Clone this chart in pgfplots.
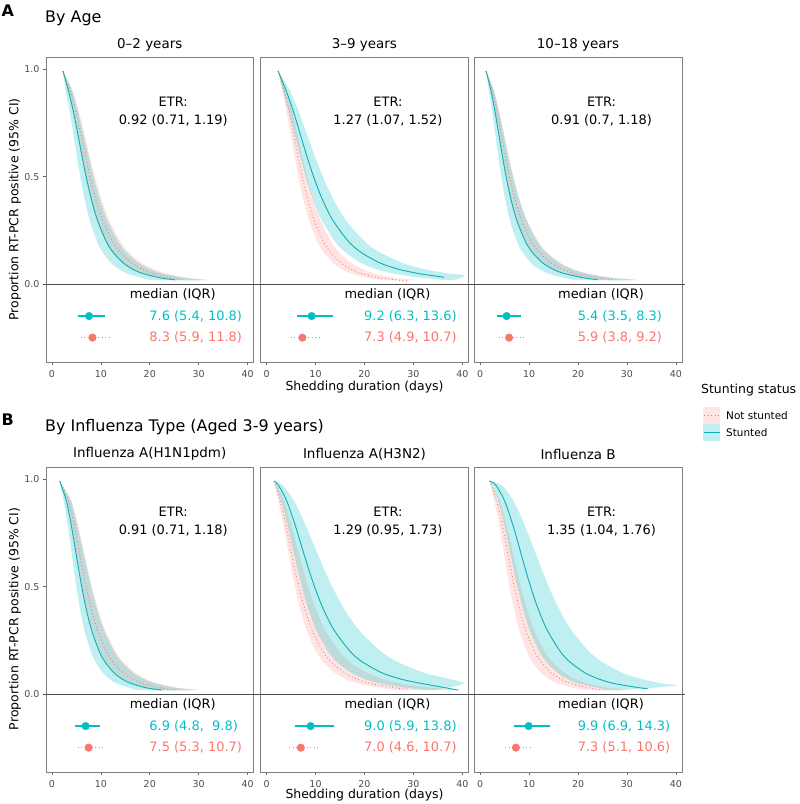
\documentclass[border=0pt]{standalone}
\usepackage{fontspec}
\setmainfont{DejaVu Sans}
\usepackage{pgfplots}
\pgfplotsset{compat=1.18}
\definecolor{scol}{HTML}{00BFC4}
\definecolor{slinecol}{HTML}{10AEB2}
\definecolor{ncol}{HTML}{F8766D}
\pgfplotsset{
  panel/.style={scale only axis, width=207.5bp, height=305bp,
    xmin=-1.2, xmax=41.2, ymin=-0.36, ymax=1.055, clip=false,
    axis line style={black!50, line width=0.55bp},
    tick pos=left, tick align=outside, major tick length=3bp,
    xtick={0,10,20,30,40}, ytick={0,0.5,1},
    every tick/.style={black!60, line width=0.55bp},
    tick label style={font=\fontsize{9.5}{11}\selectfont, text=black!70},
    xticklabel style={yshift=-1.5bp},
    /pgf/number format/assume math mode=true,
    yticklabel style={/pgf/number format/fixed, /pgf/number format/fixed zerofill, /pgf/number format/precision=1}},
  inner/.style={ytick=\empty},
  sband/.style={draw=none, fill=scol, fill opacity=0.25, smooth},
  nband/.style={draw=none, fill=ncol, fill opacity=0.2, smooth},
  sln/.style={slinecol, line width=0.9bp, smooth, no markers},
  nln/.style={ncol, line width=0.9bp, dash pattern=on 0.9bp off 2.6bp, smooth, no markers},
  siqr/.style={scol, line width=1.3bp, no markers},
  niqr/.style={ncol, line width=1.3bp, dash pattern=on 1bp off 2.5bp, no markers},
  sdot/.style={only marks, mark=*, mark size=3.8bp, scol, mark options={draw=scol, fill=scol}},
  ndot/.style={only marks, mark=*, mark size=3.8bp, ncol, mark options={draw=ncol, fill=ncol}},
}
\newcommand{\annfont}{\fontsize{13}{15.6}\selectfont}
\newcommand{\zeroline}{\draw[black!70, line width=0.7bp] (axis cs:-1.9,0) -- (axis cs:41.9,0);}
\newcommand{\etr}[1]{%
  \node[font=\annfont] at (axis cs:24.8,0.845) {ETR:};
  \node[font=\annfont] at (axis cs:24.8,0.76) {#1};
  \node[font=\annfont] at (axis cs:24.7,-0.048) {median (IQR)};}
\newcommand{\medtext}[2]{%
  \node[anchor=west, inner sep=0pt, text=scol, font=\annfont] at (axis cs:19.9,-0.147) {#1};
  \node[anchor=west, inner sep=0pt, text=ncol, font=\annfont] at (axis cs:19.9,-0.247) {#2};}
\begin{document}
\begin{tikzpicture}
\path[use as bounding box] (0,0) rectangle (800bp,804bp);

% ---------------- Panel A ----------------
\node[anchor=west, inner sep=0pt, font=\bfseries\fontsize{16}{19}\selectfont] at (1.5bp,793bp) {A};
\node[anchor=west, inner sep=0pt, font=\fontsize{16}{19}\selectfont] at (45bp,785.7bp) {By Age};
\node[font=\fontsize{13.5}{16}\selectfont] at (149.75bp,759bp) {0–2 years};
\node[font=\fontsize{13.5}{16}\selectfont] at (364.45bp,759bp) {3–9 years};
\node[font=\fontsize{13.5}{16}\selectfont] at (578.05bp,759bp) {10–18 years};
\node[rotate=90, font=\fontsize{12.5}{15}\selectfont] at (15bp,594.5bp) {Proportion RT-PCR positive (95\% CI)};
\node[font=\fontsize{12.5}{15}\selectfont] at (364.5bp,417bp) {Shedding duration (days)};

% A1: 0-2 years
\begin{axis}[panel, at={(46bp,442bp)}, anchor=south west]
\addplot[nband] coordinates {(2.25,.99)(4.23,.9)(5.54,.8)(6.64,.7)(7.69,.6)(8.8,.5)(10.08,.4)(11.67,.3)(13.97,.2)(15.69,.15)(18.30,.1)(20.85,.07)(23.48,.05)(28.04,.03)(32.20,.02)(25.25,.02)(21.98,.03)(18.41,.05)(16.35,.07)(14.35,.1)(12.30,.15)(10.95,.2)(9.15,.3)(7.90,.4)(6.9,.5)(6.03,.6)(5.20,.7)(4.35,.8)(3.32,.9)};
\addplot[sband] coordinates {(2.25,.99)(4.09,.9)(5.36,.8)(6.41,.7)(7.43,.6)(8.5,.5)(9.73,.4)(11.27,.3)(13.49,.2)(15.16,.15)(17.68,.1)(20.14,.07)(22.68,.05)(27.08,.03)(31.10,.02)(21.22,.02)(18.48,.03)(15.47,.05)(13.74,.07)(12.06,.1)(10.34,.15)(9.20,.2)(7.69,.3)(6.64,.4)(5.8,.5)(5.07,.6)(4.37,.7)(3.65,.8)(2.79,.9)};
\addplot[nln] coordinates {(2.25,.99)(3.75,.9)(4.91,.8)(5.88,.7)(6.82,.6)(7.8,.5)(8.93,.4)(10.34,.3)(12.38,.2)(13.91,.15)(16.22,.1)(18.48,.07)(20.81,.05)(24.85,.03)(27.0,.022)};
\addplot[sln] coordinates {(2.25,.99)(3.37,.9)(4.41,.8)(5.28,.7)(6.12,.6)(7.0,.5)(8.02,.4)(9.28,.3)(11.11,.2)(12.48,.15)(14.56,.1)(16.58,.07)(18.68,.05)(22.30,.03)(25.2,.021)};
\zeroline
\etr{0.92 (0.71, 1.19)}
\addplot[siqr] coordinates {(5.4,-0.147) (10.8,-0.147)};
\addplot[sdot] coordinates {(7.6,-0.147)};
\addplot[niqr] coordinates {(5.9,-0.247) (11.8,-0.247)};
\addplot[ndot] coordinates {(8.3,-0.247)};
\medtext{7.6 (5.4, 10.8)}{8.3 (5.9, 11.8)}
\end{axis}

% A2: 3-9 years
\begin{axis}[panel, inner, at={(260.7bp,442bp)}, anchor=south west]
\addplot[nband] coordinates {(2.35,.99)(3.99,.9)(5.23,.8)(6.26,.7)(7.25,.6)(8.3,.5)(9.50,.4)(11.01,.3)(13.17,.2)(14.80,.15)(17.26,.1)(19.66,.07)(22.14,.05)(26.44,.03)(30.37,.02)(23.78,.02)(20.71,.03)(17.34,.05)(15.40,.07)(13.52,.1)(11.59,.15)(10.32,.2)(8.62,.3)(7.44,.4)(6.5,.5)(5.68,.6)(4.90,.7)(4.10,.8)(3.13,.9)};
\addplot[sband] coordinates {(2.35,.99)(2.86,.97)(4.77,.9)(6.60,.8)(8.20,.7)(9.78,.6)(11.5,.5)(13.52,.4)(16.13,.3)(20.02,.2)(23.02,.15)(27.69,.1)(32.37,.07)(37.34,.05)(40.5,.042)(37.95,.02)(32.13,.03)(25.98,.05)(22.52,.07)(19.26,.1)(16.02,.15)(13.93,.2)(11.22,.3)(9.41,.4)(8.0,.5)(6.80,.6)(5.70,.7)(4.59,.8)(3.32,.9)};
\addplot[nln] coordinates {(2.35,.99)(3.51,.9)(4.60,.8)(5.50,.7)(6.38,.6)(7.3,.5)(8.36,.4)(9.68,.3)(11.59,.2)(13.02,.15)(15.18,.1)(17.29,.07)(19.48,.05)(23.26,.03)(26.71,.02)(29.0,.016)};
\addplot[sln] coordinates {(2.35,.99)(3.98,.9)(5.51,.8)(6.84,.7)(8.16,.6)(9.6,.5)(11.29,.4)(13.47,.3)(16.71,.2)(19.22,.15)(23.12,.1)(27.02,.07)(31.17,.05)(36.3,.033)};
\zeroline
\etr{1.27 (1.07, 1.52)}
\addplot[siqr] coordinates {(6.3,-0.147) (13.6,-0.147)};
\addplot[sdot] coordinates {(9.2,-0.147)};
\addplot[niqr] coordinates {(4.9,-0.247) (10.7,-0.247)};
\addplot[ndot] coordinates {(7.3,-0.247)};
\medtext{9.2 (6.3, 13.6)}{7.3 (4.9, 10.7)}
\end{axis}

% A3: 10-18 years
\begin{axis}[panel, inner, at={(474.3bp,442bp)}, anchor=south west]
\addplot[nband] coordinates {(1.2,.99)(2.82,.9)(3.90,.8)(4.85,.7)(5.78,.6)(6.8,.5)(8.00,.4)(9.54,.3)(11.84,.2)(13.61,.15)(16.37,.1)(19.14,.07)(22.08,.05)(27.31,.03)(32.26,.02)(25.14,.02)(21.28,.03)(17.21,.05)(14.92,.07)(12.76,.1)(10.61,.15)(9.23,.2)(7.44,.3)(6.23,.4)(5.3,.5)(4.51,.6)(3.78,.7)(3.04,.8)(2.20,.9)};
\addplot[sband] coordinates {(1.2,.99)(2.78,.9)(3.85,.8)(4.78,.7)(5.70,.6)(6.7,.5)(7.88,.4)(9.40,.3)(11.66,.2)(13.41,.15)(16.13,.1)(18.86,.07)(21.75,.05)(26.91,.03)(31.78,.02)(20.40,.02)(17.27,.03)(13.96,.05)(12.10,.07)(10.35,.1)(8.61,.15)(7.49,.2)(6.03,.3)(5.06,.4)(4.3,.5)(3.66,.6)(3.07,.7)(2.47,.8)(1.78,.9)};
\addplot[nln] coordinates {(1.2,.99)(2.49,.9)(3.44,.8)(4.28,.7)(5.10,.6)(6.0,.5)(7.06,.4)(8.42,.3)(10.45,.2)(12.01,.15)(14.45,.1)(16.89,.07)(19.48,.05)(24.10,.03)(27.5,.021)};
\addplot[sln] coordinates {(1.2,.99)(2.20,.9)(3.04,.8)(3.78,.7)(4.51,.6)(5.3,.5)(6.23,.4)(7.44,.3)(9.23,.2)(10.61,.15)(12.76,.1)(14.92,.07)(17.21,.05)(21.28,.03)(24.0,.022)};
\zeroline
\etr{0.91 (0.7, 1.18)}
\addplot[siqr] coordinates {(3.5,-0.147) (8.3,-0.147)};
\addplot[sdot] coordinates {(5.4,-0.147)};
\addplot[niqr] coordinates {(3.8,-0.247) (9.2,-0.247)};
\addplot[ndot] coordinates {(5.9,-0.247)};
\medtext{5.4 (3.5, 8.3)}{5.9 (3.8, 9.2)}
\end{axis}

% ---------------- Panel B ----------------
\node[anchor=west, inner sep=0pt, font=\bfseries\fontsize{16}{19}\selectfont] at (1.5bp,384bp) {B};
\node[anchor=west, inner sep=0pt, font=\fontsize{16}{19}\selectfont] at (45bp,376.7bp) {By Influenza Type (Aged 3-9 years)};
\node[font=\fontsize{13.5}{16}\selectfont] at (149.75bp,350bp) {Influenza A(H1N1pdm)};
\node[font=\fontsize{13.5}{16}\selectfont] at (364.45bp,350bp) {Influenza A(H3N2)};
\node[font=\fontsize{13.5}{16}\selectfont] at (578.05bp,350bp) {Influenza B};
\node[rotate=90, font=\fontsize{12.5}{15}\selectfont] at (15bp,185bp) {Proportion RT-PCR positive (95\% CI)};
\node[font=\fontsize{12.5}{15}\selectfont] at (364.5bp,9bp) {Shedding duration (days)};

% B1: H1N1pdm
\begin{axis}[panel, at={(46bp,32bp)}, anchor=south west]
\addplot[nband] coordinates {(1.6,.99)(3.94,.9)(5.17,.8)(6.18,.7)(7.17,.6)(8.2,.5)(9.39,.4)(10.87,.3)(13.01,.2)(14.62,.15)(17.06,.1)(19.43,.07)(21.88,.05)(26.13,.03)(30.00,.02)(22.69,.02)(19.75,.03)(16.54,.05)(14.69,.07)(12.90,.1)(11.05,.15)(9.84,.2)(8.22,.3)(7.10,.4)(6.2,.5)(5.42,.6)(4.67,.7)(3.91,.8)(2.98,.9)};
\addplot[sband] coordinates {(1.6,.99)(3.85,.9)(5.04,.8)(6.03,.7)(6.99,.6)(8.0,.5)(9.16,.4)(10.61,.3)(12.70,.2)(14.26,.15)(16.64,.1)(18.95,.07)(21.34,.05)(25.49,.03)(29.27,.02)(18.30,.02)(15.93,.03)(13.34,.05)(11.85,.07)(10.40,.1)(8.92,.15)(7.94,.2)(6.63,.3)(5.73,.4)(5.0,.5)(4.37,.6)(3.77,.7)(3.15,.8)(2.41,.9)};
\addplot[nln] coordinates {(1.6,.99)(3.37,.9)(4.41,.8)(5.28,.7)(6.12,.6)(7.0,.5)(8.02,.4)(9.28,.3)(11.11,.2)(12.48,.15)(14.56,.1)(16.58,.07)(18.68,.05)(22.30,.03)(25.3,.02)};
\addplot[sln] coordinates {(1.6,.99)(2.93,.9)(3.84,.8)(4.60,.7)(5.33,.6)(6.1,.5)(6.98,.4)(8.09,.3)(9.68,.2)(10.88,.15)(12.69,.1)(14.45,.07)(16.27,.05)(19.43,.03)(22.5,.02)};
\zeroline
\etr{0.91 (0.71, 1.18)}
\addplot[siqr] coordinates {(4.8,-0.147) (9.8,-0.147)};
\addplot[sdot] coordinates {(6.9,-0.147)};
\addplot[niqr] coordinates {(5.3,-0.247) (10.7,-0.247)};
\addplot[ndot] coordinates {(7.5,-0.247)};
\medtext{6.9 (4.8,\ \ 9.8)}{7.5 (5.3, 10.7)}
\end{axis}

% B2: H3N2
\begin{axis}[panel, inner, at={(260.7bp,32bp)}, anchor=south west]
\addplot[nband] coordinates {(1.5,.99)(3.53,.9)(4.88,.8)(6.06,.7)(7.23,.6)(8.5,.5)(10.00,.4)(11.93,.3)(14.80,.2)(17.02,.15)(20.47,.1)(23.93,.07)(27.60,.05)(34.14,.03)(38.5,.022)(27.52,.02)(23.29,.03)(18.83,.05)(16.33,.07)(13.97,.1)(11.61,.15)(10.10,.2)(8.14,.3)(6.82,.4)(5.8,.5)(4.93,.6)(4.14,.7)(3.33,.8)(2.41,.9)};
\addplot[sband] coordinates {(1.5,.99)(3.34,.97)(5.56,.9)(7.69,.8)(9.55,.7)(11.39,.6)(13.4,.5)(15.76,.4)(18.80,.3)(23.33,.2)(26.83,.15)(32.27,.1)(37.72,.07)(40.3,.05)(34.16,.02)(28.92,.03)(23.38,.05)(20.27,.07)(17.34,.1)(14.41,.15)(12.54,.2)(10.10,.3)(8.47,.4)(7.2,.5)(6.12,.6)(5.13,.7)(4.13,.8)(2.99,.9)(1.79,.97)};
\addplot[nln] coordinates {(1.5,.99)(2.74,.9)(3.79,.8)(4.71,.7)(5.61,.6)(6.6,.5)(7.76,.4)(9.26,.3)(11.49,.2)(13.21,.15)(15.89,.1)(18.58,.07)(21.43,.05)(26.51,.03)(29.1,.024)};
\addplot[sln] coordinates {(1.5,.99)(2.44,.97)(4.07,.9)(5.63,.8)(6.99,.7)(8.33,.6)(9.8,.5)(11.52,.4)(13.75,.3)(17.06,.2)(19.62,.15)(23.60,.1)(27.59,.07)(31.82,.05)(39.2,.02)};
\zeroline
\etr{1.29 (0.95, 1.73)}
\addplot[siqr] coordinates {(5.9,-0.147) (13.8,-0.147)};
\addplot[sdot] coordinates {(9.0,-0.147)};
\addplot[niqr] coordinates {(4.6,-0.247) (10.7,-0.247)};
\addplot[ndot] coordinates {(7.0,-0.247)};
\medtext{9.0 (5.9, 13.8)}{7.0 (4.6, 10.7)}
\end{axis}

% B3: Influenza B
\begin{axis}[panel, inner, at={(474.3bp,32bp)}, anchor=south west]
\addplot[nband] coordinates {(1.9,.99)(3.99,.9)(5.23,.8)(6.26,.7)(7.25,.6)(8.3,.5)(9.50,.4)(11.01,.3)(13.17,.2)(14.80,.15)(17.26,.1)(19.66,.07)(22.14,.05)(26.44,.03)(30.37,.02)(21.95,.02)(19.12,.03)(16.01,.05)(14.21,.07)(12.48,.1)(10.70,.15)(9.52,.2)(7.96,.3)(6.87,.4)(6.0,.5)(5.24,.6)(4.52,.7)(3.78,.8)(2.89,.9)};
\addplot[sband] coordinates {(1.9,.99)(4.40,.97)(6.73,.9)(8.82,.8)(10.56,.7)(12.24,.6)(14.0,.5)(16.03,.4)(18.56,.3)(22.22,.2)(24.96,.15)(29.12,.1)(33.17,.07)(37.35,.05)(39.8,.04)(27.81,.02)(24.21,.03)(20.28,.05)(18.00,.07)(15.81,.1)(13.55,.15)(12.06,.2)(10.08,.3)(8.70,.4)(7.6,.5)(6.64,.6)(5.73,.7)(4.79,.8)(3.66,.9)(2.39,.97)};
\addplot[nln] coordinates {(1.9,.99)(3.37,.9)(4.41,.8)(5.28,.7)(6.12,.6)(7.0,.5)(8.02,.4)(9.28,.3)(11.11,.2)(12.48,.15)(14.56,.1)(16.58,.07)(18.68,.05)(22.30,.03)(25.3,.02)};
\addplot[sln] coordinates {(1.9,.99)(3.23,.97)(4.95,.9)(6.49,.8)(7.77,.7)(9.00,.6)(10.3,.5)(11.79,.4)(13.66,.3)(16.35,.2)(18.36,.15)(21.42,.1)(24.40,.07)(27.48,.05)(32.8,.03)(34.2,.027)};
\zeroline
\etr{1.35 (1.04, 1.76)}
\addplot[siqr] coordinates {(6.9,-0.147) (14.3,-0.147)};
\addplot[sdot] coordinates {(9.9,-0.147)};
\addplot[niqr] coordinates {(5.1,-0.247) (10.6,-0.247)};
\addplot[ndot] coordinates {(7.3,-0.247)};
\medtext{9.9 (6.9, 14.3)}{7.3 (5.1, 10.6)}
\end{axis}

% ---------------- Legend ----------------
\node[anchor=west, inner sep=0pt, font=\fontsize{12.5}{15}\selectfont] at (701bp,414bp) {Stunting status};
\fill[ncol, opacity=0.2] (703bp,380bp) rectangle (720bp,397bp);
\draw[ncol, line width=0.9bp, dash pattern=on 0.9bp off 2.6bp] (704bp,388.5bp) -- (719bp,388.5bp);
\fill[scol, opacity=0.25] (703bp,363bp) rectangle (720bp,380bp);
\draw[slinecol, line width=0.9bp] (703.5bp,371.5bp) -- (719.5bp,371.5bp);
\node[anchor=west, inner sep=0pt, font=\fontsize{10.5}{12.5}\selectfont] at (726bp,388.5bp) {Not stunted};
\node[anchor=west, inner sep=0pt, font=\fontsize{10.5}{12.5}\selectfont] at (726bp,371.5bp) {Stunted};
\end{tikzpicture}
\end{document}
